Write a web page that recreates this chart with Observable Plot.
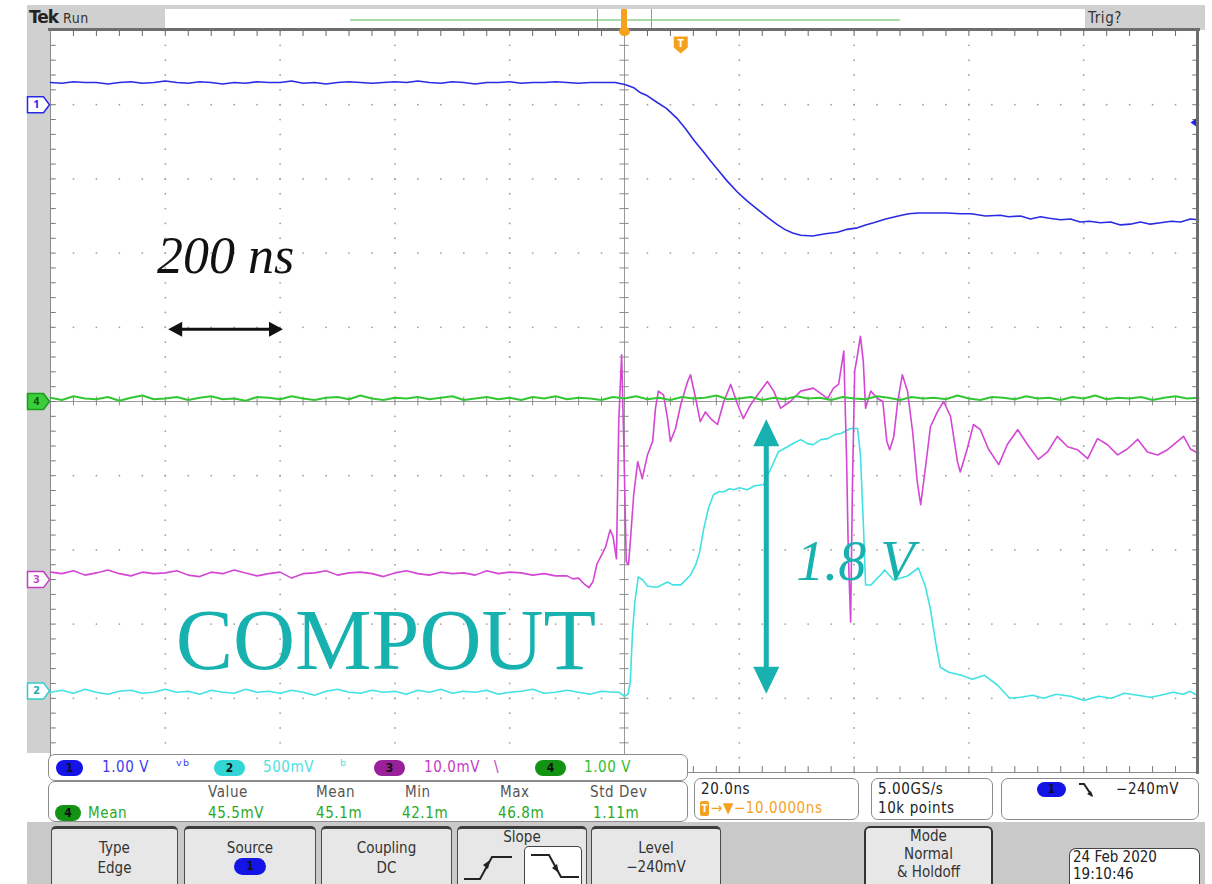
<!DOCTYPE html>
<html><head><meta charset="utf-8">
<script src="https://cdn.jsdelivr.net/npm/d3@7"></script>
<script src="https://cdn.jsdelivr.net/npm/@observablehq/plot@0.6"></script>
<style>
html,body{margin:0;padding:0;background:#fff;}
#wrap{position:relative;width:1212px;height:884px;overflow:hidden;font-family:"DejaVu Sans Condensed","Liberation Sans Narrow","Liberation Sans",sans-serif;}
.abs{position:absolute;box-sizing:border-box;}
#bg,#fg{position:absolute;left:0;top:0;width:1212px;height:884px;}
#bg{z-index:0;} #chart{position:absolute;left:0;top:0;z-index:1;} #fg{z-index:2;}
</style></head><body>
<div id="wrap"><div id="bg"></div><div id="chart"></div><div id="fg"></div></div>
<script>
// ---------------- data (time in ns, values in channel units) ----------------
const baseStart = -1000, baseStep = 20;          // uniform pre-trigger samples
const voltsPerDiv = {ch1: 1.0, ch2: 0.5, ch3: 10, ch4: 1.0}; // ch3 in mV
const position = {ch1: 4.0, ch2: -3.9, ch3: -2.4, ch4: 0};  // divisions
const trigLevelV = -0.24;

const ch1Base = [0.30,0.29,0.31,0.30,0.30,0.28,0.30,0.31,0.29,0.30,0.32,0.30,0.29,0.31,0.30,0.28,0.30,0.29,0.31,0.30,
0.30,0.32,0.29,0.30,0.28,0.30,0.31,0.30,0.29,0.30,0.31,0.30,0.32,0.30,0.29,0.31,0.30,0.28,0.30,0.30,
0.31,0.29,0.30,0.30,0.31,0.30,0.29,0.30,0.30,0.30];
const ch1Edge = [[-16,0.30],[2,0.27],[16,0.23],[28,0.16],[40,0.12],[57,0.03],[73,-0.05],[91,-0.18],[106,-0.32],[122,-0.49],
[136,-0.62],[150,-0.76],[164,-0.89],[179,-1.03],[197,-1.18],[214,-1.30],[235,-1.43],[251,-1.53],[265,-1.61],[279,-1.68],
[293,-1.73],[307,-1.76],[328,-1.77],[350,-1.74],[371,-1.72],[388,-1.68],[406,-1.66],[420,-1.62],[434,-1.59],[455,-1.54],
[477,-1.50],[495,-1.47],[512,-1.46],[533,-1.46],[563,-1.46],[585,-1.47],[604,-1.47],[629,-1.50],[655,-1.49],[669,-1.51],
[690,-1.50],[707,-1.54],[725,-1.51],[740,-1.53],[760,-1.55],[777,-1.54],[794,-1.58],[810,-1.57],[829,-1.59],[847,-1.58],
[864,-1.62],[881,-1.61],[899,-1.58],[916,-1.61],[934,-1.59],[953,-1.57],[969,-1.58],[986,-1.54],[1000,-1.55]];

const ch2Base = [-0.009,0.004,-0.016,0.011,-0.009,-0.023,-0.003,0.004,-0.016,-0.009,
0.011,-0.009,-0.003,-0.023,0.004,-0.009,-0.016,0.011,-0.009,-0.003,
-0.016,0.004,-0.009,-0.030,-0.003,0.011,-0.009,-0.016,0.004,-0.009,
-0.003,-0.023,0.004,-0.009,0.011,-0.016,-0.003,-0.009,0.004,-0.023,
-0.009,-0.003,0.011,-0.016,-0.009,0.004,-0.009,-0.023,-0.003,-0.009];
const ch2Edge = [[-10,-0.009],[0,-0.036],[6,-0.023],[10,0.058],[14,0.396],[18,0.599],[24,0.768],[32,0.747],[40,0.707],[50,0.700],
[58,0.700],[68,0.720],[75,0.734],[84,0.714],[98,0.714],[110,0.761],[115,0.781],[124,0.849],[131,0.936],[138,1.092],
[146,1.227],[155,1.322],[164,1.342],[173,1.342],[183,1.362],[190,1.355],[200,1.369],[214,1.355],[227,1.382],[242,1.389],
[258,1.524],[268,1.611],[284,1.645],[296,1.672],[307,1.693],[319,1.666],[329,1.659],[342,1.693],[354,1.700],[366,1.727],
[377,1.734],[394,1.768],[406,1.768],[411,1.592],[416,1.139],[420,0.713],[429,0.713],[446,0.781],[453,0.815],[469,0.747],
[493,0.774],[512,0.828],[524,0.707],[533,0.551],[542,0.328],[550,0.159],[565,0.126],[587,0.105],[606,0.078],[627,0.105],
[650,0.038],[671,-0.050],[690,-0.043],[711,-0.030],[730,-0.050],[752,-0.023],[777,-0.036],[801,-0.064],[826,-0.036],[848,-0.050],
[871,-0.016],[894,-0.030],[916,-0.043],[934,-0.030],[956,-0.009],[973,-0.023],[986,-0.003],[1000,-0.036]];

const ch3Base = [1.0,0.8,1.2,0.6,0.9,1.3,0.8,0.5,1.0,0.8,0.9,1.2,0.6,0.4,1.0,0.8,1.3,0.9,0.5,0.8,
1.0,0.2,0.8,0.9,1.2,0.6,0.9,1.0,0.8,0.4,0.9,1.2,0.8,0.6,1.0,0.8,0.9,0.6,1.2,0.8,1.0,0.9,0.6,0.8,0.5];
const ch3Edge = [[-100,0.5],[-90,0.1],[-80,0.2],[-70,-0.6],[-62,-1.1],[-55,-0.3],[-48,2.1],[-40,3.3],[-33,4.4],[-25,6.7],
[-20,5.8],[-14,2.8],[-10,21.3],[-5,30.3],[-1,17.6],[3,2.4],[7,2.0],[11,6.0],[16,11.4],[23,15.9],[31,13.6],[40,16.8],
[49,18.6],[54,23.1],[59,25.4],[68,24.9],[75,21.7],[80,18.6],[89,20.4],[98,23.6],[110,26.7],[115,27.6],[124,24.4],
[132,21.3],[141,22.6],[150,21.7],[162,20.9],[173,24.0],[185,26.3],[197,23.6],[207,21.7],[220,23.6],[232,24.9],[249,26.7],
[260,25.4],[272,23.1],[289,24.0],[307,25.4],[329,25.8],[354,24.4],[364,25.8],[373,26.3],[382,30.8],[387,15.9],[390,3.3],
[394,-5.7],[397,12.2],[401,28.1],[406,30.3],[411,32.8],[416,29.4],[420,23.1],[429,25.4],[441,24.4],[450,24.0],[457,18.6],
[462,17.5],[469,19.2],[476,24.0],[484,27.6],[493,25.4],[502,19.9],[510,13.2],[516,10.1],[524,14.9],[533,20.6],[545,22.6],
[556,24.0],[568,22.0],[580,15.9],[585,14.5],[597,17.6],[608,20.9],[620,20.2],[634,17.6],[652,15.5],[667,18.2],[685,20.2],
[702,18.2],[721,16.2],[737,17.2],[754,19.3],[772,17.9],[789,17.5],[807,16.3],[824,19.0],[841,18.2],[859,16.8],[876,17.6],
[894,18.9],[911,17.2],[929,16.8],[946,17.5],[963,18.6],[974,19.3],[986,17.6],[1000,17.0]];

const ch4Base = [0.05,0.02,0.07,0.04,0.03,0.06,0.01,0.05,0.08,0.03,0.04,0.06,0.02,0.05,0.07,0.03,0.04,0.01,0.06,0.05,
0.03,0.07,0.04,0.02,0.05,0.06,0.03,0.08,0.04,0.02,0.05,0.04,0.06,0.03,0.05,0.07,0.02,0.04,0.06,0.03,
0.05,0.02,0.06,0.04,0.07,0.03,0.05,0.04,0.02,0.06,0.04,0.07,0.03,0.05,0.02,0.06,0.04,0.05,0.08,0.03,
0.04,0.06,0.02,0.05,0.03,0.07,0.04,0.05,0.02,0.06,0.04,0.03,0.07,0.05,0.02,0.06,0.04,0.05,0.03,0.08,
0.04,0.02,0.06,0.05,0.03,0.07,0.04,0.05,0.02,0.06,0.04,0.08,0.03,0.05,0.04,0.06,0.02,0.05,0.07,0.04,0.05];

// annotation values
const spanNs = [-795, -595];       // 200 ns marker
const spanV = [-0.02, 1.83];       // 1.8 V marker on ch2
const spanT = 247;

// ---------------- build ----------------
const series = (base, edge) => base.map((v, i) => ({t: baseStart + i * baseStep, v}))
  .concat(edge.map(([t, v]) => ({t, v})));
const d1 = series(ch1Base, ch1Edge), d2 = series(ch2Base, ch2Edge),
      d3s = series(ch3Base, ch3Edge), d4 = series(ch4Base, []);
const div = ch => d => position[ch] + d.v / voltsPerDiv[ch];

const sym = pts => ({draw(ctx) { ctx.moveTo(pts[0][0], pts[0][1]); for (const p of pts.slice(1)) ctx.lineTo(p[0], p[1]); ctx.closePath(); }});
const tagSym = sym([[-11,-8],[5,-8],[11,0],[5,8],[-11,8]]);
const headUp = sym([[0,0],[13,27],[-13,27]]);
const headDown = sym([[0,0],[13,-27],[-13,-27]]);
const headLeft = sym([[0,0],[14,-7.5],[14,7.5]]);
const headRight = sym([[0,0],[-14,-7.5],[-14,7.5]]);
const leftTri = sym([[0,0],[7,-5],[7,5]]);
const shield = sym([[-7,-8],[7,-8],[7,3],[0,9],[-7,3]]);

const rows = d3.range(-4, 5).filter(d => d !== 0);
const cols = d3.range(-800, 801, 200).filter(d => d !== 0);
const minorX = d3.range(-1000, 1001, 40);
const minorY = d3.range(-25, 26).map(i => i / 5);
const rowDots = rows.flatMap(y => minorX.map(t => ({t, y})));
const colDots = cols.flatMap(t => minorY.map(y => ({t, y})));

const teal = "#17b2af";
const tags = [
  {ch: "ch1", label: "1", stroke: "#2a2ae6", fill: "#ffffff", text: "#2a2ae6"},
  {ch: "ch4", label: "4", stroke: "#1c9c1c", fill: "#3ccc3c", text: "#0b5a0b"},
  {ch: "ch3", label: "3", stroke: "#c33fc3", fill: "#ffffff", text: "#c33fc3"},
  {ch: "ch2", label: "2", stroke: "#33cccc", fill: "#ffffff", text: "#22aaaa"}
];
const v2div = v => position.ch2 + v / voltsPerDiv.ch2;

const marks = [
  Plot.dot(rowDots, {x: "t", y: "y", r: 0.9, fill: "#a0a0a0"}),
  Plot.dot(colDots, {x: "t", y: "y", r: 0.9, fill: "#a0a0a0"}),
  Plot.ruleX([0], {stroke: "#9a9a9a", strokeWidth: 1}),
  Plot.ruleY([0], {stroke: "#9a9a9a", strokeWidth: 1}),
  Plot.ruleY(minorY, {y: d => d, x1: -8, x2: 8, stroke: "#8a8a8a"}),
  Plot.ruleX(minorX, {x: d => d, y1: -0.06, y2: 0.06, stroke: "#8a8a8a"}),
  Plot.ruleX(minorX, {x: d => d, y1: 5, y2: 4.92, stroke: "#666"}),
  Plot.ruleX(minorX, {x: d => d, y1: -5, y2: -4.92, stroke: "#777"}),
  Plot.ruleY(minorY, {y: d => d, x1: -1000, x2: -990, stroke: "#777"}),
  Plot.ruleY(minorY, {y: d => d, x1: 990, x2: 1000, stroke: "#777"}),
  Plot.frame({stroke: "#8a8a8a"}),
  // traces
  Plot.line(d2, {x: "t", y: div("ch2"), stroke: "#40e2e2", strokeWidth: 1.6}),
  Plot.line(d3s, {x: "t", y: div("ch3"), stroke: "#d446d4", strokeWidth: 1.6}),
  Plot.line(d1, {x: "t", y: div("ch1"), stroke: "#2b2be4", strokeWidth: 1.6}),
  Plot.line(d4, {x: "t", y: div("ch4"), stroke: "#33c833", strokeWidth: 2}),
  // trigger markers
  Plot.dot([trigLevelV], {x: () => 1000, y: d => position.ch1 + d / voltsPerDiv.ch1, symbol: leftTri, r: 4, fill: "#2424e8", dx: -8}),
  Plot.dot([98], {x: d => d, y: () => 4.81, symbol: shield, r: 4, fill: "#f5a11e"}),
  Plot.text([98], {x: d => d, y: () => 4.82, text: () => "T", fill: "#fff", fontWeight: "bold", fontSize: 11}),
  // annotations
  Plot.text(["200 ns"], {x: () => -695, y: () => 1.95, text: d => d, fontFamily: "Liberation Serif", fontStyle: "italic", fontSize: 52, fill: "#111"}),
  Plot.ruleY([0.973], {y: d => d, x1: () => spanNs[0], x2: () => spanNs[1], stroke: "#111", strokeWidth: 3, insetLeft: 8, insetRight: 8}),
  Plot.dot([spanNs[0]], {x: d => d, y: () => 0.973, symbol: headLeft, r: 4, fill: "#111"}),
  Plot.dot([spanNs[1]], {x: d => d, y: () => 0.973, symbol: headRight, r: 4, fill: "#111"}),
  Plot.text(["COMPOUT"], {x: () => -782, y: () => -3.23, text: d => d, textAnchor: "start", fontFamily: "Liberation Serif", fontSize: 86, fill: teal}),
  Plot.ruleX([spanT], {x: d => d, y1: () => v2div(spanV[1]), y2: () => v2div(spanV[0]), stroke: teal, strokeWidth: 5, insetTop: 14, insetBottom: 14}),
  Plot.dot([spanV[1]], {x: () => spanT, y: d => v2div(d), symbol: headUp, r: 4, fill: teal}),
  Plot.dot([spanV[0]], {x: () => spanT, y: d => v2div(d), symbol: headDown, r: 4, fill: teal}),
  Plot.text(["1.8 V"], {x: () => 402, y: () => -2.16, text: d => d, fontFamily: "Liberation Serif", fontStyle: "italic", fontSize: 56, fill: teal})
];
for (const g of tags) {
  marks.push(Plot.dot([g], {x: () => -1000, y: d => position[d.ch], symbol: tagSym, r: 4, fill: g.fill, stroke: g.stroke, strokeWidth: 1.5, dx: -12}));
  marks.push(Plot.text([g], {x: () => -1000, y: d => position[d.ch], text: "label", fill: g.text, fontWeight: "bold", fontSize: 11, dx: -14}));
}

const chart = Plot.plot({
  width: 1212, height: 884,
  marginTop: 30, marginLeft: 50, marginRight: 14, marginBottom: 112,
  x: {domain: [-1000, 1000], axis: null},
  y: {domain: [-5, 5], axis: null},
  style: {background: "transparent", overflow: "visible"},
  marks
});
document.getElementById("chart").appendChild(chart);

// ---------------- instrument chrome ----------------
const bg = document.getElementById("bg"), fg = document.getElementById("fg");
function el(parent, x, y, w, h, css, html) {
  const d = document.createElement("div");
  d.className = "abs";
  d.style.cssText = `left:${x}px;top:${y}px;width:${w}px;height:${h}px;` + (css || "");
  if (html) d.innerHTML = html;
  parent.appendChild(d);
  return d;
}
function txt(parent, x, y, s, css) {
  const d = document.createElement("div");
  d.className = "abs";
  d.style.cssText = `left:${x}px;top:${y}px;white-space:nowrap;line-height:1;font-size:15px;letter-spacing:0.6px;` + (css || "");
  d.textContent = s;
  parent.appendChild(d);
  return d;
}
function pill(x, y, w, h, color, label, tc) {
  el(fg, x, y, w, h, `background:${color};border-radius:${h/2}px;color:${tc||"#111"};font-size:12px;font-weight:bold;text-align:center;line-height:${h}px;`, label);
}
// top bar
el(bg, 27, 5, 1178, 25, "background:#d0d0d0;");
el(bg, 165, 9, 920, 21, "background:#fff;");
el(bg, 350, 19, 550, 2, "background:#a9dca9;");
el(bg, 597, 9, 55, 21, "border-left:1px solid #9a9a9a;border-right:1px solid #9a9a9a;");
txt(bg, 29, 9, "Tek", "font-family:'DejaVu Sans',sans-serif;font-weight:bold;font-size:17px;color:#222;letter-spacing:-1px;");
txt(bg, 63, 11, "Run", "font-size:14px;color:#333;");
txt(bg, 1088, 11, "Trig?", "font-size:15px;color:#333;");
el(bg, 27, 30, 23, 723, "background:#d0d0d0;");
el(bg, 27, 822, 1178, 62, "background:#c9c9c9;");
// graticule borders and top marker
el(fg, 48, 28, 1152, 2.5, "background:#6e6e6e;");
el(fg, 1196, 28, 3, 746, "background:#6e6e6e;");
el(fg, 621, 9, 6, 24, "background:#f5a11e;border-radius:1px;");
el(fg, 618.5, 27, 11, 9, "background:#f5a11e;border-radius:50%;");

// readouts
const rb = "background:#fff;border:1.5px solid #8c8c8c;border-radius:7px;";
el(fg, 48, 754, 640, 27, rb);
el(fg, 48, 781, 640, 41, rb);
pill(56, 760, 27, 16, "#1414e6", "1");
txt(fg, 102, 760, "1.00 V", "color:#3b3bf0;");
txt(fg, 176, 758, "ᵛᵇ", "color:#3b3bf0;font-size:17px;");
pill(214, 760, 31, 16, "#33d6d6", "2");
txt(fg, 263, 760, "500mV", "color:#4fe0e0;");
txt(fg, 340, 758, "ᵇ", "color:#4fe0e0;font-size:17px;");
pill(374, 760, 31, 16, "#9a1f9a", "3");
txt(fg, 424, 760, "10.0mV", "color:#c43cc4;");
txt(fg, 494, 760, "\\", "color:#c43cc4;");
pill(535, 760, 31, 16, "#139313", "4");
txt(fg, 584, 760, "1.00 V", "color:#33bb33;");

const hc = "color:#555;";
txt(fg, 208, 785, "Value", hc);
txt(fg, 316, 785, "Mean", hc);
txt(fg, 405, 785, "Min", hc);
txt(fg, 500, 785, "Max", hc);
txt(fg, 590, 785, "Std Dev", hc);
pill(55, 805, 26, 16, "#139313", "4");
const gc = "color:#28aa28;";
txt(fg, 88, 806, "Mean", gc);
txt(fg, 208, 806, "45.5mV", gc);
txt(fg, 316, 806, "45.1m", gc);
txt(fg, 402, 806, "42.1m", gc);
txt(fg, 498, 806, "46.8m", gc);
txt(fg, 593, 806, "1.11m", gc);

el(fg, 694, 778, 165, 42, rb);
txt(fg, 701, 782, "20.0ns", "color:#222;");
el(fg, 700, 801, 9, 15, "background:#f5a11e;border-radius:2px;color:#fff;font-size:10px;font-weight:bold;text-align:center;line-height:15px;", "T");
txt(fg, 711, 801, "→▼−10.0000ns", "color:#f5a11e;");
el(fg, 871, 778, 122, 42, rb);
txt(fg, 878, 782, "5.00GS/s", "color:#222;");
txt(fg, 878, 801, "10k points", "color:#222;");
el(fg, 1001, 778, 198, 42, rb);
pill(1037, 782, 29, 15, "#1414e6", "1");
el(fg, 1077, 781, 18, 18, "", '<svg width="18" height="18"><polyline points="2,3 7,3 15,15" fill="none" stroke="#222" stroke-width="2"/><polygon points="16,16 10,13 14,10" fill="#222"/></svg>');
txt(fg, 1116, 782, "−240mV", "color:#222;");

// soft-key buttons
const bs = "background:#e7e7e7;border:1.5px solid #4a4a4a;border-top:3px solid #3c3c3c;border-bottom:none;border-radius:5px 5px 0 0;color:#333;";
function button(x, w, lines, css) {
  const b = el(fg, x, 826, w, 58, css || bs);
  b.innerHTML = lines.map(([s, top]) => `<div style="position:absolute;left:0;right:0;top:${top}px;text-align:center;font-size:15px;line-height:1;white-space:nowrap;">${s}</div>`).join("");
  return b;
}
button(51, 127, [["Type", 12], ["Edge", 32]]);
button(184, 132, [["Source", 12]]);
pill(234, 858, 32, 17, "#1414e6", "1");
button(321, 131, [["Coupling", 12], ["DC", 32]]);
button(457, 130, [["Slope", 1]]);
el(fg, 462, 848, 56, 34, "", '<svg width="56" height="34"><polyline points="2,31 18,31 30,9 50,9" fill="none" stroke="#222" stroke-width="2"/><polygon points="28,12 21,17 26,21" fill="#222"/></svg>');
el(fg, 524, 846, 58, 38, "background:#fff;border:1.5px solid #444;border-bottom:none;border-radius:5px 5px 0 0;",
  '<svg width="56" height="36"><polyline points="6,8 24,8 36,30 54,30" fill="none" stroke="#222" stroke-width="2"/><polygon points="34,26 27,21 32,17" fill="#222"/></svg>');
button(591, 130, [["Level", 12], ["−240mV", 31]]);
button(864, 129, [["Mode", 1], ["Normal", 19], ["&amp; Holdoff", 37]], "background:#e7e7e7;border:2px solid #333;border-bottom:none;border-radius:6px 6px 0 0;color:#333;");
const dbox = el(fg, 1069, 848, 131, 36, "background:#fff;border:1.5px solid #444;border-bottom:none;border-radius:7px 7px 0 0;color:#222;");
dbox.innerHTML = '<div style="position:absolute;left:3px;top:1px;font-size:15px;line-height:1;white-space:nowrap;">24 Feb 2020</div><div style="position:absolute;left:3px;top:18px;font-size:15px;line-height:1;white-space:nowrap;">19:10:46</div>';
</script>
</body></html>
